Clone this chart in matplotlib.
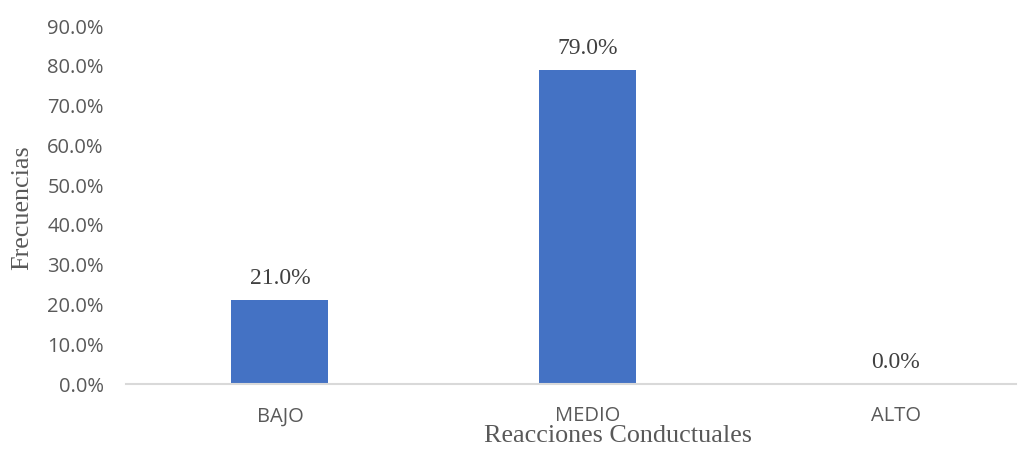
import matplotlib.pyplot as plt
from matplotlib.ticker import PercentFormatter

categorias = ['BAJO', 'MEDIO', 'ALTO']
valores = [0.21, 0.79, 0.0]
etiquetas = ['21.0%', '79.0%', '0.0%']

fig = plt.figure(figsize=(10.36, 4.51), dpi=100)
ax = fig.add_axes([126 / 1036, 1 - 384 / 451, 890 / 1036, 358 / 451])

x = list(range(len(categorias)))
bars = ax.bar(x, valores, width=0.315, color='#4472C4')

# etiquetas de datos
for b, t in zip(bars, etiquetas):
    ax.annotate(t, (b.get_x() + b.get_width() / 2, b.get_height()),
                xytext=(0, 11.5), textcoords='offset points', ha='center', va='baseline',
                family='Liberation Serif', fontsize=17, color='#404040')

ax.set_xlim(-0.5, 2.39)
ax.set_ylim(0, 0.9)
ax.set_yticks([i / 10 for i in range(10)])
ax.yaxis.set_major_formatter(PercentFormatter(1.0, decimals=1))
ax.set_xticks(x)
ax.set_xticklabels(categorias)

for s in ['top', 'right', 'left']:
    ax.spines[s].set_visible(False)
ax.spines['bottom'].set_color('#D9D9D9')
ax.spines['bottom'].set_linewidth(1.5)
ax.tick_params(axis='y', length=0, pad=16, labelsize=14.5, labelcolor='#595959')
ax.tick_params(axis='x', length=0, pad=16, labelsize=14.5, labelcolor='#595959')
for lab in ax.get_xticklabels() + ax.get_yticklabels():
    lab.set_family('Open Sans')

# titulos de ejes
fig.text(618 / 1036, 1 - 442 / 451, 'Reacciones Conductuales', family='Liberation Serif',
         fontsize=18.8, color='#595959', ha='center', va='baseline')
fig.text(22 / 1036, 1 - 208 / 451, 'Frecuencias', family='Liberation Serif',
         fontsize=18.8, color='#595959', ha='center', va='center', rotation=90)

fig.savefig('out.png', dpi=100)
